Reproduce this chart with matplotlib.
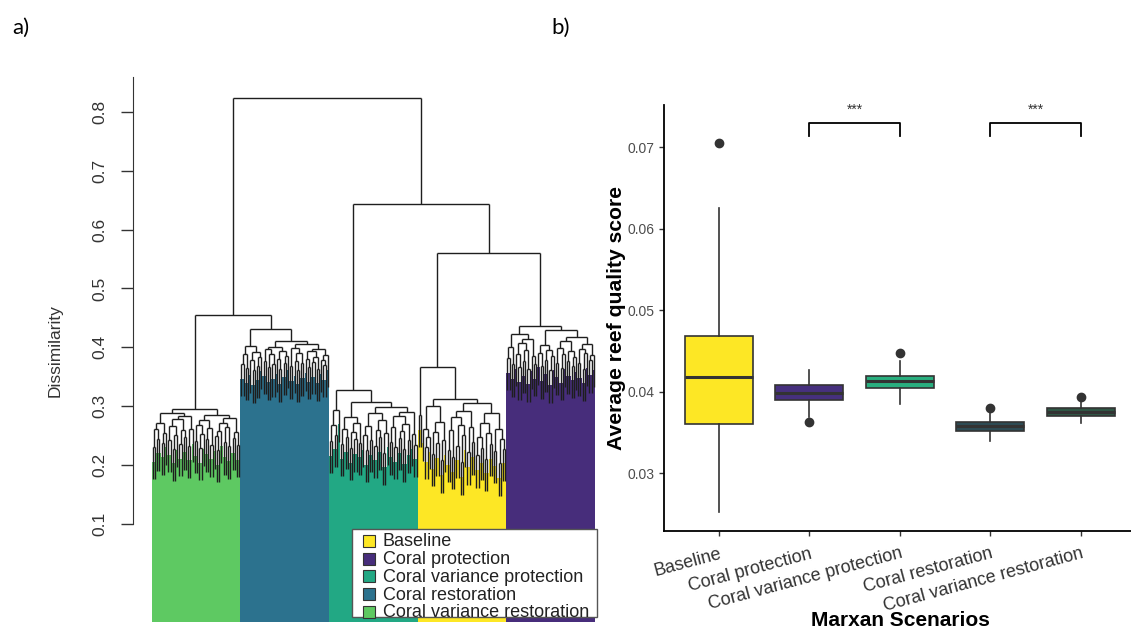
import numpy as np
import matplotlib.pyplot as plt
from matplotlib.collections import LineCollection
from matplotlib.patches import Rectangle

plt.rcParams['font.family'] = ['Liberation Sans', 'DejaVu Sans']

W, H = 1131, 635

scenarios = ["Baseline", "Coral protection", "Coral variance protection",
             "Coral restoration", "Coral variance restoration"]
dendro_colors = ["#FDE725", "#472D7B", "#22A884", "#2C728E", "#5EC962"]
box_colors = ["#FDE725", "#46307E", "#29AF7F", "#2D4B54", "#2F5745"]

# panel a: merge height between each pair of neighbouring leaves (leaf order)
gaps_cvr = [0.231, 0.262, 0.245, 0.272, 0.238, 0.255, 0.289, 0.243, 0.266, 0.228,
            0.251, 0.279, 0.236, 0.259, 0.247, 0.284, 0.233, 0.261, 0.296, 0.241,
            0.268, 0.229, 0.253, 0.276, 0.244, 0.263, 0.235, 0.285, 0.249, 0.226,
            0.258, 0.271, 0.239, 0.265, 0.232, 0.280, 0.246, 0.257, 0.234]
gaps_cr = [0.372, 0.389, 0.365, 0.403, 0.378, 0.361, 0.392, 0.369, 0.384, 0.432,
           0.376, 0.397, 0.366, 0.388, 0.371, 0.401, 0.380, 0.363, 0.394, 0.374,
           0.386, 0.411, 0.368, 0.399, 0.377, 0.362, 0.390, 0.373, 0.405, 0.381,
           0.367, 0.393, 0.375, 0.384, 0.364, 0.398, 0.379, 0.370, 0.387]
gaps_cvp = [0.241, 0.268, 0.252, 0.294, 0.327, 0.236, 0.262, 0.248, 0.281, 0.229,
            0.257, 0.244, 0.272, 0.238, 0.307, 0.251, 0.226, 0.266, 0.243, 0.288,
            0.233, 0.259, 0.247, 0.276, 0.221, 0.255, 0.299, 0.239, 0.264, 0.231,
            0.283, 0.246, 0.258, 0.227, 0.270, 0.242, 0.291, 0.253, 0.235]
gaps_base = [0.285, 0.367, 0.262, 0.231, 0.248, 0.301, 0.219, 0.256, 0.237, 0.274,
             0.208, 0.243, 0.313, 0.226, 0.259, 0.214, 0.281, 0.233, 0.268, 0.205,
             0.251, 0.292, 0.222, 0.264, 0.239, 0.305, 0.217, 0.247, 0.229, 0.271,
             0.211, 0.255, 0.236, 0.288, 0.224, 0.261, 0.203, 0.244, 0.228]
gaps_cp = [0.382, 0.401, 0.371, 0.423, 0.389, 0.366, 0.408, 0.377, 0.395, 0.363,
           0.414, 0.385, 0.372, 0.437, 0.391, 0.368, 0.404, 0.379, 0.396, 0.361,
           0.386, 0.429, 0.374, 0.399, 0.365, 0.388, 0.410, 0.376, 0.393, 0.369,
           0.383, 0.418, 0.373, 0.397, 0.364, 0.390, 0.406, 0.378, 0.387]
# merges between the clusters
join_cvr_cr = 0.455
join_top = 0.823
join_cvp_rest = 0.643
join_base_cp = 0.561
cluster_order = [4, 3, 2, 0, 1]   # scenario index of each cluster, left to right

# panel b: box statistics
box_q1 = [0.0360, 0.03897, 0.04040, 0.03520, 0.03700]
box_med = [0.04176, 0.03986, 0.04130, 0.03577, 0.03753]
box_q3 = [0.04684, 0.04081, 0.04196, 0.03630, 0.03802]
whisk_lo = [0.02522, 0.03692, 0.03848, 0.03393, 0.03611]
whisk_hi = [0.06254, 0.04265, 0.04376, 0.03733, 0.03897]
outliers = [[0.07058], [0.03623], [0.04470], [0.03802], [0.03937]]
sig_pairs = [(2, 3), (4, 5)]
sig_label = "***"


def fx(px):
    return px / W


def fy(py):
    return 1 - py / H


fig = plt.figure(figsize=(W / 100, H / 100), dpi=100)

# ---------------- panel a: dendrogram ----------------
gaps = (gaps_cvr + [join_cvr_cr] + gaps_cr + [join_top] + gaps_cvp
        + [join_cvp_rest] + gaps_base + [join_base_cp] + gaps_cp)
groups = [gaps_cvr, gaps_cr, gaps_cvp, gaps_base, gaps_cp]
leaf_color = []
for ci, g in zip(cluster_order, groups):
    leaf_color += [dendro_colors[ci]] * (len(g) + 1)
n_leaves = len(gaps) + 1
leaf_parent = np.zeros(n_leaves)
hang = 0.055
segs = []


def build(lo, hi):
    # returns x position and height of node; None height for a leaf
    if lo == hi:
        return lo, None
    k = lo + int(np.argmax(gaps[lo:hi]))
    h = gaps[k]
    xl, hl = build(lo, k)
    xr, hr = build(k + 1, hi)
    for x, hc, idx in ((xl, hl, lo), (xr, hr, hi)):
        if hc is None:
            leaf_parent[idx] = h
            hc = h - hang
        segs.append([(x, hc), (x, h)])
    segs.append([(xl, h), (xr, h)])
    return (xl + xr) / 2, h


build(0, n_leaves - 1)

ybot = -0.0664
ax = fig.add_axes([fx(133.3), fy(622), fx(600) - fx(133.3), fy(70) - fy(622)])
ax.bar(np.arange(n_leaves), leaf_parent - 0.025 - ybot, bottom=ybot, width=1.0,
       color=leaf_color, linewidth=0, zorder=1)
ax.add_collection(LineCollection(segs, colors="#1e1e1e", linewidths=1.0, zorder=2))
ax.set_xlim(-8.8, n_leaves + 1.8)
ax.set_ylim(ybot, 0.871)
for s in ("top", "right", "bottom"):
    ax.spines[s].set_visible(False)
ax.spines["left"].set_bounds(0.1, 0.859)
ax.spines["left"].set_color("#333333")
ax.set_xticks([])
yt = [0.1, 0.2, 0.3, 0.4, 0.5, 0.6, 0.7, 0.8]
ax.set_yticks(yt)
ax.set_yticklabels([f"{v:.1f}" for v in yt], rotation=90, va="center",
                   fontsize=12.5, color="#333333")
ax.tick_params(axis="y", length=8.4, width=1, color="#333333", pad=10)
fig.text(fx(55), fy(351), "Dissimilarity", rotation=90, ha="center", va="center",
         fontsize=12.5, color="#333333")

# legend for panel a
fig.add_artist(Rectangle((fx(351.7), fy(617.3)), fx(596.7) - fx(351.7),
                         fy(529) - fy(617.3), transform=fig.transFigure,
                         facecolor="white", edgecolor="#555555", linewidth=1, zorder=5))
row_y = [540.7, 558.5, 576.3, 594.1, 611.9]
for i, name in enumerate(scenarios):
    fig.add_artist(Rectangle((fx(363), fy(row_y[i] + 6)), fx(12), 12 / H,
                             transform=fig.transFigure, facecolor=dendro_colors[i],
                             edgecolor="#333333", linewidth=0.8, zorder=6))
    fig.text(fx(382.7), fy(row_y[i] + 1), name, ha="left", va="center",
             fontsize=13, color="#222222", zorder=6)

# ---------------- panel b: boxplots ----------------
ax2 = fig.add_axes([fx(664.3), fy(531.3), fx(1135.3) - fx(664.3), fy(104.8) - fy(531.3)])
stats = []
for i in range(len(scenarios)):
    stats.append(dict(med=box_med[i], q1=box_q1[i], q3=box_q3[i],
                      whislo=whisk_lo[i], whishi=whisk_hi[i], fliers=outliers[i]))
pos = np.arange(1, len(scenarios) + 1)
bp = ax2.bxp(stats, positions=pos, widths=0.75, patch_artist=True, showcaps=False,
             boxprops=dict(edgecolor="#333333", linewidth=1.2),
             medianprops=dict(color="#333333", linewidth=2.2),
             whiskerprops=dict(color="#333333", linewidth=1.2),
             flierprops=dict(marker="o", markerfacecolor="#333333",
                             markeredgecolor="#333333", markersize=6))
for patch, c in zip(bp["boxes"], box_colors):
    patch.set_facecolor(c)

ax2.set_xlim(0.4, 5.6)
ax2.set_ylim(0.02284, 0.07523)
for s in ("top", "right"):
    ax2.spines[s].set_visible(False)
for s in ("left", "bottom"):
    ax2.spines[s].set_linewidth(1.3)
    ax2.spines[s].set_color("black")
yt2 = [0.03, 0.04, 0.05, 0.06, 0.07]
ax2.set_yticks(yt2)
ax2.set_yticklabels([f"{v:.2f}" for v in yt2], fontsize=10, color="#4D4D4D")
ax2.set_xticks(pos)
ax2.set_xticklabels(scenarios, rotation=15, ha="right", va="top",
                    rotation_mode="anchor", fontsize=13, color="#333333")
ax2.tick_params(axis="both", length=3.5, width=1, color="#333333")
ax2.tick_params(axis="x", pad=6.5)

ax_h = 531.3 - 104.8
ax_w = 1135.3 - 664.3
ax2.set_ylabel("Average reef quality score", fontsize=15.2, fontweight="bold")
ax2.yaxis.set_label_coords((617 - 664.3) / ax_w, 0.5)
ax2.yaxis.label.set_va("center")
ax2.set_xlabel("Marxan Scenarios", fontsize=15, fontweight="bold")
ax2.xaxis.set_label_coords((900 - 664.3) / ax_w, (531.3 - 620) / ax_h)
ax2.xaxis.label.set_va("center")

for a, b in sig_pairs:
    ax2.plot([a, a, b, b], [0.07145, 0.07297, 0.07297, 0.07145], color="black",
             linewidth=1.3, clip_on=False)
    ax2.text((a + b) / 2, 0.07458, sig_label, ha="center", va="center", fontsize=10,
             color="#333333")

# panel letters
fig.text(fx(12), fy(28), "a)", fontsize=16, family=["Lato", "DejaVu Sans"],
         ha="left", va="center")
fig.text(fx(551), fy(28), "b)", fontsize=16, family=["Lato", "DejaVu Sans"],
         ha="left", va="center")

fig.savefig("out.png", dpi=100)
